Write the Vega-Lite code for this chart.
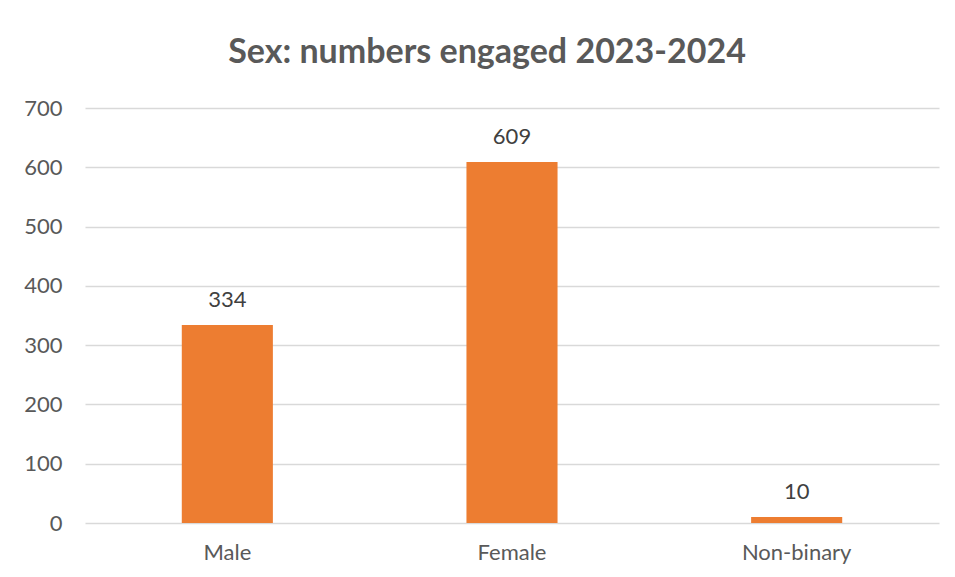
{
  "$schema": "https://vega.github.io/schema/vega-lite/v6.json",
  "autosize": "none",
  "width": 854,
  "height": 415,
  "padding": {"left": 85, "top": 108, "right": 16, "bottom": 54},
  "background": "white",
  "config": {
    "view": {"stroke": null},
    "font": "Lato"
  },
  "title": {
    "text": "Sex: numbers engaged 2023-2024",
    "font": "Lato",
    "fontSize": 34,
    "fontWeight": "bold",
    "color": "#595959",
    "anchor": "middle",
    "frame": "group",
    "baseline": "alphabetic",
    "offset": 0,
    "dx": -25
  },
  "data": {
    "values": [
      {"sex": "Male", "count": 334},
      {"sex": "Female", "count": 609},
      {"sex": "Non-binary", "count": 10}
    ]
  },
  "encoding": {
    "x": {
      "field": "sex",
      "type": "nominal",
      "sort": null,
      "scale": {"paddingInner": 0.68, "paddingOuter": 0.34},
      "axis": {
        "title": null,
        "domain": false,
        "ticks": false,
        "labelAngle": 0,
        "labelFont": "Lato",
        "labelFontSize": 22,
        "labelColor": "#595959",
        "labelPadding": 19
      }
    },
    "y": {
      "field": "count",
      "type": "quantitative",
      "scale": {"domain": [0, 700]},
      "axis": {
        "title": null,
        "domain": false,
        "ticks": false,
        "values": [0, 100, 200, 300, 400, 500, 600, 700],
        "grid": true,
        "gridColor": "#d9d9d9",
        "gridWidth": 1.3,
        "labelFont": "Lato",
        "labelFontSize": 22,
        "labelColor": "#595959",
        "labelPadding": 23
      }
    }
  },
  "layer": [
    {"mark": {"type": "bar", "color": "#ED7D31"}},
    {
      "mark": {
        "type": "text",
        "baseline": "alphabetic",
        "dy": -18,
        "font": "Lato",
        "fontSize": 22,
        "color": "#404040"
      },
      "encoding": {"text": {"field": "count", "type": "quantitative"}}
    }
  ]
}
